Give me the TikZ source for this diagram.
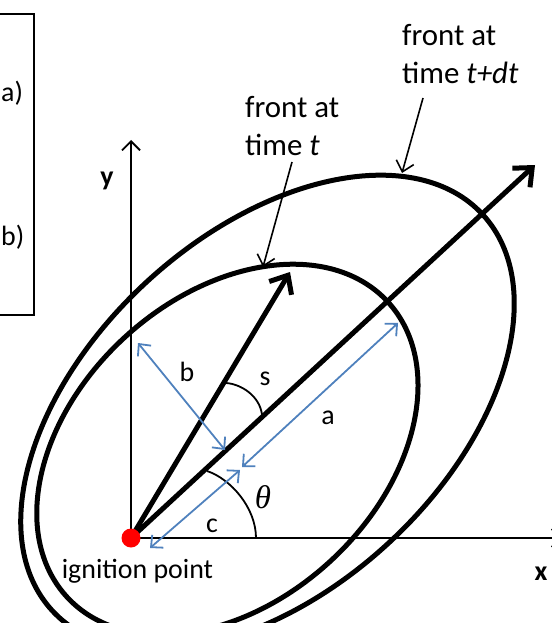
\documentclass[tikz,border=0pt]{standalone}
\usepackage{fontspec}
\setmainfont{Carlito}
\newfontfamily\thetafont{Liberation Serif}
\usetikzlibrary{arrows.meta}
\definecolor{ablue}{RGB}{79,129,189}
\begin{document}
\begin{tikzpicture}[x=1bp,y=-1bp,
  front/.style={line width=5bp, black},
  axisline/.style={line width=1.8bp, black},
  thickarrow/.style={line width=5bp, -{Straight Barb[length=15bp,width=26bp]}},
  pointer/.style={line width=1.6bp, -{Straight Barb[length=10bp,width=18bp]}},
  dimline/.style={ablue, line width=1.8bp, {Straight Barb[length=9bp,width=17bp]}-{Straight Barb[length=9bp,width=17bp]}},
  lbl/.style={font=\fontsize{28}{38}\selectfont, inner sep=0pt, align=left},
  flbl/.style={font=\fontsize{31}{38}\selectfont, inner sep=0pt, align=left},
  bl/.style={font=\fontsize{28}{38}\selectfont\bfseries, inner sep=0pt}]
\useasboundingbox (0,0) rectangle (552,623);
\clip (0,0) rectangle (552,623);

% key points
\coordinate (O) at (131,538);
\coordinate (Ytip) at (131,140);
\coordinate (Xtip) at (562,538);
\coordinate (Atip) at (535,165);
\coordinate (Stip) at (290,272);
\coordinate (Ci) at (227.4,449.4);
\coordinate (Co) at (267.5,412.6);

% fire fronts
\draw[front, rotate around={42.6:(Ci)}] (Ci) ellipse [x radius=218, y radius=152];
\draw[front, rotate around={42.6:(Co)}] (Co) ellipse [x radius=292.5, y radius=178];

% legend box (cropped)
\draw[axisline] (-10,14) rectangle (34,315);
\node[lbl, anchor=west] (la) at (1,93) {a)};
\node[lbl, anchor=west] (lbb) at (1,237) {b)};

% axes
\draw[axisline, -{Straight Barb[length=9bp,width=18bp]}] (O) -- (Ytip);
\draw[axisline, -{Straight Barb[length=9bp,width=18bp]}] (O) -- (Xtip);
\node[bl, anchor=base] (ylab) at (107,186) {y};
\node[bl] (xlab) at (541,574) {x};

% thick arrows
\draw[thickarrow] (O) -- (Atip);
\draw[thickarrow] (O) -- (Stip);

% angle arcs
\coordinate (th1) at (207,471);
\coordinate (th2) at (256,538);
\draw[axisline] (th1) .. controls (231,479) and (256,508) .. (th2);
\coordinate (s1) at (226,383);
\coordinate (s2) at (262,415);
\draw[axisline] (s1) .. controls (241,384) and (260,396) .. (s2);

% blue dimension arrows
\coordinate (b1) at (138,343); \coordinate (b2) at (225,450);
\coordinate (a1) at (242,467); \coordinate (a2) at (398,323);
\coordinate (c1) at (150,548); \coordinate (c2) at (240,470);
\draw[dimline] (b1) -- (b2);
\draw[dimline] (a1) -- (a2);
\draw[dimline] (c1) -- (c2);

% labels
\node[lbl] (lb) at (187,372) {b};
\node[lbl] (ls) at (265,379) {s};
\node[lbl] (laa) at (328,418) {a};
\node[lbl] (lc) at (212,526) {c};
\node[inner sep=0pt, font=\thetafont\itshape\fontsize{33}{38}\selectfont] (lth) at (263,497) {θ};

% front labels and pointers
\node[flbl, anchor=west] (ft) at (245,126) {front at\\time \textit{t}};
\node[flbl, anchor=west] (ftdt) at (402,54) {front at\\time \textit{t+dt}};
\coordinate (p1s) at (292,162); \coordinate (p1e) at (263,267);
\coordinate (p2s) at (423,98); \coordinate (p2e) at (402,173);
\draw[pointer] (p1s) -- (p1e);
\draw[pointer] (p2s) -- (p2e);

% ignition point
\node[circle, fill=red, minimum size=19bp, inner sep=0pt] (ign) at (O) {};
\node[lbl, anchor=base] (ignl) at (137.5,578) {ignition point};
\end{tikzpicture}
\end{document}
